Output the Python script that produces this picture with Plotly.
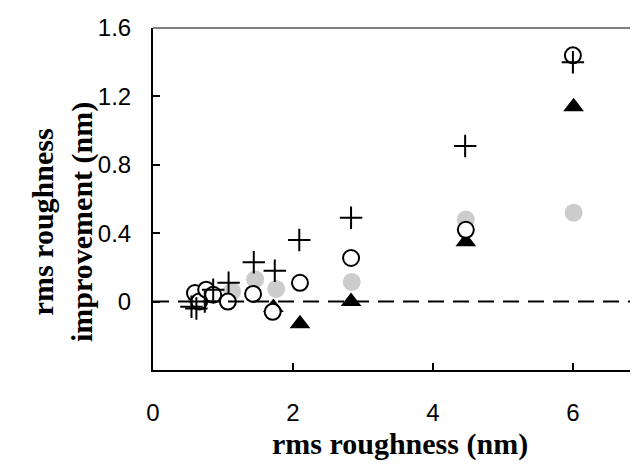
import plotly.graph_objects as go

# Series: plus markers
plus_x = [0.55, 0.62, 0.74, 0.86, 1.08, 1.44, 1.74, 2.09, 2.83, 4.46, 6.0]
plus_y = [-0.03, -0.04, 0.0, 0.07, 0.11, 0.23, 0.18, 0.36, 0.49, 0.91, 1.4]

# Series: open circles
open_x = [0.6, 0.66, 0.76, 0.86, 1.07, 1.43, 1.71, 2.1, 2.83, 4.47, 6.0]
open_y = [0.05, 0.0, 0.07, 0.04, 0.0, 0.045, -0.06, 0.11, 0.255, 0.42, 1.44]

# Series: grey filled circles
grey_x = [0.62, 0.8, 1.13, 1.46, 1.76, 2.84, 4.47, 6.01]
grey_y = [0.02, 0.05, 0.06, 0.13, 0.074, 0.115, 0.48, 0.52]

# Series: black triangles
tri_x = [1.72, 2.1, 2.83, 4.47, 6.01]
tri_y = [-0.035, -0.13, 0.0, 0.35, 1.14]

x_ticks = [0, 2, 4, 6]
y_ticks = [0, 0.4, 0.8, 1.2, 1.6]
y_tick_text = ["0", "0.4", "0.8", "1.2", "1.6"]

fig = go.Figure()
fig.add_trace(go.Scatter(x=grey_x, y=grey_y, mode="markers",
                         marker=dict(symbol="circle", size=18, color="#cccccc", line=dict(width=0))))
fig.add_trace(go.Scatter(x=tri_x, y=tri_y, mode="markers",
                         marker=dict(symbol="triangle-up", size=18, color="black", line=dict(width=0))))
fig.add_trace(go.Scatter(x=open_x, y=open_y, mode="markers",
                         marker=dict(symbol="circle", size=16, color="white", line=dict(width=2, color="black"))))
fig.add_trace(go.Scatter(x=plus_x, y=plus_y, mode="markers",
                         marker=dict(symbol="cross-thin-open", size=16, color="black", line=dict(width=2, color="black"))))

tick_font = dict(family="Liberation Sans, Arial", size=24, color="black")

# page body has 8px margin; figure origin at (8, 8)
fig.update_layout(
    width=630, height=459,
    margin=dict(l=145, r=0, t=20, b=97),
    paper_bgcolor="white", plot_bgcolor="white",
    showlegend=False,
    xaxis=dict(range=[0, 6.93], tickvals=x_ticks, ticktext=[str(v) for v in x_ticks],
               ticks="inside", ticklen=7, tickwidth=1.5, tickcolor="black",
               showline=True, linecolor="black", linewidth=2,
               showgrid=False, zeroline=False, tickfont=tick_font,
               ticklabelstandoff=20),
    yaxis=dict(range=[-0.4, 1.6], tickvals=y_ticks, ticktext=y_tick_text,
               ticks="inside", ticklen=7, tickwidth=1.5, tickcolor="black",
               showline=True, linecolor="black", linewidth=2,
               showgrid=False, zeroline=False, tickfont=tick_font,
               ticklabelstandoff=15),
    shapes=[
        dict(type="line", xref="paper", yref="y", x0=0, x1=1, y0=0, y1=0,
             line=dict(color="black", width=2, dash="16px,9px")),
        dict(type="line", xref="paper", yref="paper", x0=0, x1=1, y0=1, y1=1,
             line=dict(color="#808080", width=2)),
    ],
    annotations=[
        dict(text="<b>rms roughness (nm)</b>", xref="paper", yref="paper",
             x=(400 - 153) / 485, y=-(444 - 370) / 342, showarrow=False,
             xanchor="center", yanchor="middle",
             font=dict(family="Liberation Serif, Times New Roman", size=30, color="black")),
        dict(text="<b>rms roughness<br>improvement (nm)</b>", xref="paper", yref="paper",
             x=-(153 - 62) / 485, y=(370 - 222) / 342, showarrow=False, textangle=-90,
             xanchor="center", yanchor="middle",
             font=dict(family="Liberation Serif, Times New Roman", size=30, color="black")),
    ],
)

fig.write_html("out.html")
